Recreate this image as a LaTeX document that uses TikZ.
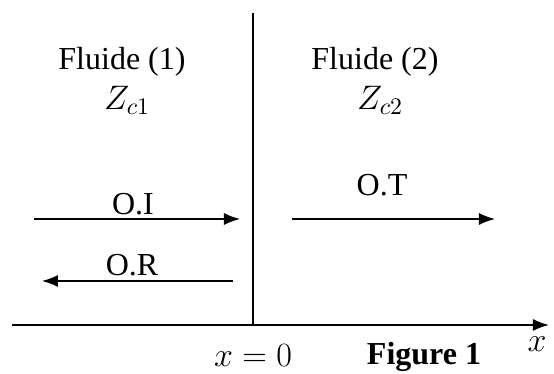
\RequirePackage{fix-cm}
\documentclass[tikz,border=0pt]{standalone}
\usepackage{fontspec}
\setmainfont{Liberation Serif}
\usetikzlibrary{arrows.meta, positioning}
\tikzset{
  every picture/.style={font=\fontsize{16}{18}\selectfont, line width=0.8pt},
  wave/.style={-{Latex[length=8pt,width=6pt]}, line width=0.7pt},
  axis/.style={-{Latex[length=8pt,width=6pt]}, line width=0.9pt},
  tag/.style={inner sep=1pt},
  sym/.style={inner sep=1pt, font=\fontsize{17}{19}\selectfont},
}
\begin{document}
\begin{tikzpicture}[x=0.5pt, y=-0.5pt]
  \useasboundingbox (0,0) rectangle (554,374);
  % interface and axis
  \coordinate (top) at (253,13);
  \coordinate (o) at (253,325);
  \coordinate (xs) at (12,325);
  \coordinate (xe) at (549,325);
  \draw (top) -- (o);
  \draw[axis] (xs) -- (xe);
  % media
  \node[tag] (fl1) at (122,62) {Fluide (1)};
  \node[sym] (z1) at (127,100) {$Z_{c1}$};
  \node[tag] (fl2) at (375,62) {Fluide (2)};
  \node[sym] (z2) at (380,100) {$Z_{c2}$};
  % waves
  \coordinate (ia) at (34,219);  \coordinate (ib) at (240,219);
  \coordinate (ra) at (233,281); \coordinate (rb) at (42,281);
  \coordinate (ta) at (292,219); \coordinate (tb) at (495,219);
  \draw[wave] (ia) -- (ib);
  \draw[wave] (ra) -- (rb);
  \draw[wave] (ta) -- (tb);
  \node[tag] (oi) at (133,204) {O.I};
  \node[tag] (or) at (132,265) {O.R};
  \node[tag] (ot) at (382,185) {O.T};
  % labels under the axis
  \node[sym] (x0) at (253,356) {$x=0$};
  \node[tag, font=\fontsize{16}{18}\selectfont\bfseries] (fig) at (424,357) {Figure 1};
  \node[sym] (xl) at (537,344) {$x$};
\end{tikzpicture}
\end{document}
